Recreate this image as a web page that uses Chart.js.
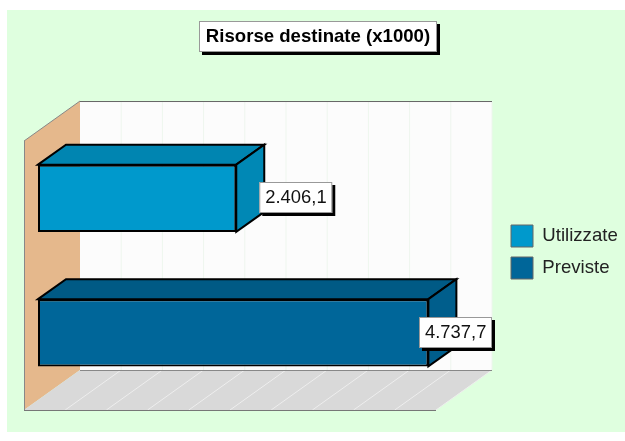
<!DOCTYPE html>
<html lang="it">
<head>
  <meta charset="UTF-8">
  <title>Risorse destinate</title>
  <script src="https://cdn.jsdelivr.net/npm/chart.js"></script>
  <style>
    html, body { margin: 0; padding: 0; background: #fff; }
    canvas { display: block; }
  </style>
</head>
<body>
  <canvas id="chart" width="625" height="441"></canvas>
  <script>
    // Dati
    const categories = [''];
    const seriesNames = ['Utilizzate', 'Previste'];
    const utilizzate = [2406.1];
    const previste = [4737.7];
    const valueLabels = ['2.406,1', '4.737,7'];
    const chartTitle = 'Risorse destinate (x1000)';

    const font = 'Liberation Sans, Arial, sans-serif';
    const front = ['#0099CC', '#006699'];
    const topFace = ['#0085B1', '#005A85'];
    const sideFace = ['#0088B5', '#005E8C'];

    // Bars sit in the middle of the floor depth
    const barDX = 28, barDY = -20;
    const backDX = 42, backDY = -30;
    const frontDX = -14, frontDY = 10;

    function poly(ctx, pts, fill, stroke, width) {
      ctx.beginPath();
      pts.forEach((p, i) => i ? ctx.lineTo(p[0], p[1]) : ctx.moveTo(p[0], p[1]));
      ctx.closePath();
      if (fill) { ctx.fillStyle = fill; ctx.fill(); }
      if (stroke) { ctx.strokeStyle = stroke; ctx.lineWidth = width; ctx.stroke(); }
    }

    function line(ctx, x1, y1, x2, y2, color, width) {
      ctx.beginPath();
      ctx.moveTo(x1, y1);
      ctx.lineTo(x2, y2);
      ctx.strokeStyle = color;
      ctx.lineWidth = width;
      ctx.stroke();
    }

    // Box with black shadow, for the title and the value labels
    function shadowBox(ctx, x, y, w, h) {
      ctx.fillStyle = '#000';
      ctx.fillRect(x + 3, y + 3, w, h);
      ctx.fillStyle = '#fff';
      ctx.fillRect(x, y, w, h);
      ctx.strokeStyle = '#999';
      ctx.lineWidth = 1;
      ctx.strokeRect(x + 0.5, y + 0.5, w - 1, h - 1);
    }

    const scene = {
      id: 'scene',
      afterLayout(chart) {
        // title and legend go where the reference has them
        chart.titleBlock.left = 199;
        chart.titleBlock.right = 437;
        const lg = chart.legend;
        lg.left = 501;
        lg.right = 625;
        lg.top = 215;
        lg.bottom = 290;
      },
      beforeDraw(chart) {
        const ctx = chart.ctx;
        ctx.save();
        ctx.fillStyle = '#DFFFDF';
        ctx.fillRect(7, 10, 618, 422);
        shadowBox(ctx, 199, 21, 238, 31);
        ctx.restore();
      },
      beforeDatasetsDraw(chart) {
        const ctx = chart.ctx;
        const a = chart.chartArea;
        const sx = chart.scales.x;
        const bl = a.left + backDX, br = a.right + backDX, bt = a.top + backDY, bb = a.bottom + backDY;
        const fl = a.left + frontDX, fr = a.right + frontDX, ft = a.top + frontDY, fb = a.bottom + frontDY;
        ctx.save();
        // back wall
        ctx.fillStyle = '#FCFCFC';
        ctx.fillRect(bl, bt, br - bl, bb - bt);
        // left wall
        poly(ctx, [[fl, ft], [bl, bt], [bl, bb], [fl, fb]], '#E5B88C');
        // floor
        poly(ctx, [[fl, fb], [fr, fb], [br, bb], [bl, bb]], '#D9D9D9');
        // grid from the value axis ticks
        sx.ticks.forEach((t, i) => {
          const px = sx.getPixelForValue(t.value);
          if (i > 0) {
            line(ctx, px + backDX, bt, px + backDX, bb, '#EEF6EE', 1);
            line(ctx, px + backDX, bb, px + frontDX, fb, '#EEEEEE', 1);
          }
        });
        // edges
        line(ctx, bl, bt + 0.5, br, bt + 0.5, '#666', 1);
        line(ctx, bl, bb + 0.5, br, bb + 0.5, '#888', 1);
        line(ctx, fl, fb + 0.5, fr, fb + 0.5, '#777', 1);
        line(ctx, fl + 0.5, ft, fl + 0.5, fb, '#888', 1);
        line(ctx, fl, ft, bl, bt, '#888', 1);
        // bar top and side faces
        chart.data.datasets.forEach((ds, i) => {
          const bar = chart.getDatasetMeta(i).data[0];
          const t = bar.y - bar.height / 2, b = bar.y + bar.height / 2;
          poly(ctx, [[bar.base, t], [bar.base + barDX, t + barDY], [bar.x + barDX, t + barDY], [bar.x, t]], topFace[i], '#000', 2);
          poly(ctx, [[bar.x, t], [bar.x + barDX, t + barDY], [bar.x + barDX, b + barDY], [bar.x, b]], sideFace[i], '#000', 2);
        });
        ctx.restore();
      },
      afterDatasetsDraw(chart) {
        const ctx = chart.ctx;
        const a = chart.chartArea;
        ctx.save();
        ctx.font = '18.4px ' + font;
        ctx.textBaseline = 'middle';
        chart.data.datasets.forEach((ds, i) => {
          const bar = chart.getDatasetMeta(i).data[0];
          const w = Math.round(ctx.measureText(valueLabels[i]).width + 12);
          const x = Math.min(bar.x + 23, a.right + backDX - w);
          const y = Math.round(bar.y - 16);
          shadowBox(ctx, x, y, w, 31);
          ctx.fillStyle = '#111';
          ctx.fillText(valueLabels[i], x + 6, y + 16);
        });
        ctx.restore();
      }
    };

    new Chart(document.getElementById('chart'), {
      type: 'bar',
      data: {
        labels: categories,
        datasets: [
          { label: seriesNames[0], data: utilizzate, backgroundColor: front[0], borderColor: '#000', borderWidth: 2, borderSkipped: false },
          { label: seriesNames[1], data: previste, backgroundColor: front[1], borderColor: '#000', borderWidth: 2, borderSkipped: false }
        ]
      },
      options: {
        indexAxis: 'y',
        responsive: false,
        animation: false,
        categoryPercentage: 1,
        barPercentage: 0.5,
        layout: { padding: { left: 38, right: 175, top: 0, bottom: 41 } },
        scales: {
          x: { display: false, min: 0, max: 5000, ticks: { stepSize: 500 } },
          y: { display: false }
        },
        plugins: {
          tooltip: { enabled: false },
          title: {
            display: true,
            text: chartTitle,
            color: '#000',
            font: { family: font, size: 18.6, weight: 'bold' },
            lineHeight: 1.2,
            padding: { top: 26, bottom: 82.7 }
          },
          legend: {
            position: 'chartArea',
            align: 'start',
            labels: {
              boxWidth: 22,
              boxHeight: 22,
              padding: 10,
              color: '#222',
              font: { family: font, size: 18.6 },
              generateLabels: chart => chart.data.datasets.map((ds, i) => ({
                text: ds.label,
                fontColor: '#222',
                fillStyle: front[i],
                strokeStyle: '#666',
                lineWidth: 1,
                datasetIndex: i
              }))
            }
          }
        }
      },
      plugins: [scene]
    });
  </script>
</body>
</html>
